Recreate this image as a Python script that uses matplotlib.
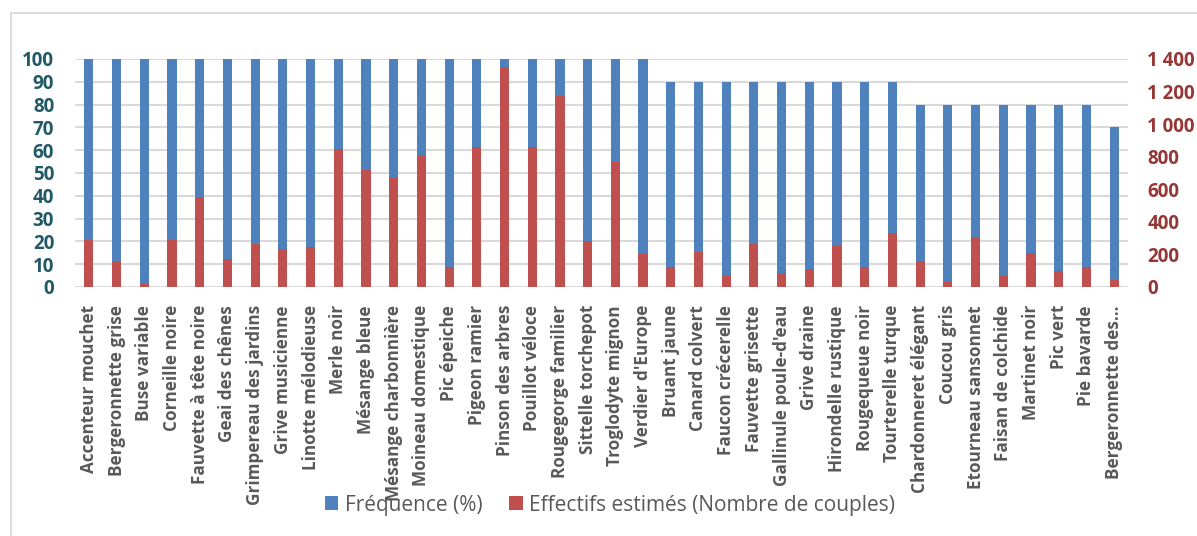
import matplotlib
matplotlib.use('Agg')

import matplotlib.pyplot as plt
import numpy as np
from matplotlib.patches import Rectangle
from matplotlib.ticker import FuncFormatter

plt.rcParams['font.family'] = ['Open Sans', 'DejaVu Sans']

# Espèces observées, fréquence (%) et effectifs estimés (couples)
especes = [
    'Accenteur mouchet', 'Bergeronnette grise', 'Buse variable', 'Corneille noire',
    'Fauvette à tête noire', 'Geai des chênes', 'Grimpereau des jardins',
    'Grive musicienne', 'Linotte mélodieuse', 'Merle noir', 'Mésange bleue',
    'Mésange charbonnière', 'Moineau domestique', 'Pic épeiche', 'Pigeon ramier',
    'Pinson des arbres', 'Pouillot véloce', 'Rougegorge familier',
    'Sittelle torchepot', 'Troglodyte mignon', "Verdier d'Europe", 'Bruant jaune',
    'Canard colvert', 'Faucon crécerelle', 'Fauvette grisette',
    "Gallinule poule-d'eau", 'Grive draine', 'Hirondelle rustique',
    'Rougequeue noir', 'Tourterelle turque', 'Chardonneret élégant',
    'Coucou gris', 'Etourneau sansonnet', 'Faisan de colchide', 'Martinet noir',
    'Pic vert', 'Pie bavarde', 'Bergeronnette des…',
]
frequence = [100] * 21 + [90] * 9 + [80] * 7 + [70]
effectifs = [
    290, 160, 20, 290, 550, 175, 265, 235, 245, 850, 720, 675, 805, 125, 860,
    1350, 860, 1170, 280, 765, 200, 125, 215, 72, 265, 84, 113, 250, 123, 330,
    160, 29, 305, 68, 211, 96, 125, 43,
]

bleu = '#4F81BD'
rouge = '#C0504D'
gris_txt = '#595959'
gris_grille = '#D9D9D9'

fig = plt.figure(figsize=(11.97, 5.36), dpi=100)

# cadre du graphique
fig.patches.append(Rectangle((11 / 1197, -0.1), 1.2, 1 - 13 / 536 + 0.1,
                             transform=fig.transFigure, fill=False,
                             edgecolor=gris_grille, linewidth=1.3))

ax = fig.add_axes([75 / 1197, 1 - 287 / 536, 1053 / 1197, 228 / 536])
x = np.arange(len(especes))
largeur = 0.33

ax.bar(x, frequence, largeur, color=bleu, label='Fréquence (%)', zorder=2)
ax.set_ylim(0, 100)
ax.set_xlim(-0.5, len(especes) - 0.5)
ax.set_yticks(np.arange(0, 101, 10))
ax.grid(axis='y', color=gris_grille, linewidth=1.5, zorder=0)
ax.set_axisbelow(True)
for s in ax.spines.values():
    s.set_visible(False)
ax.tick_params(axis='y', length=0, pad=15, labelsize=13.5, labelcolor='#215967')
for lab in ax.get_yticklabels():
    lab.set_fontweight('bold')

ax.set_xticks(x)
ax.set_xticklabels(especes, rotation=90, fontsize=12.3, fontweight='bold',
                   color=gris_txt)
ax.tick_params(axis='x', length=0, pad=13)

ax2 = ax.twinx()
ax2.bar(x, effectifs, largeur, color=rouge,
        label='Effectifs estimés (Nombre de couples)', zorder=3)
ax2.set_ylim(0, 1400)
ax2.set_yticks(np.arange(0, 1401, 200))
ax2.yaxis.set_major_formatter(FuncFormatter(lambda v, p: f'{int(v):,}'.replace(',', ' ')))
for s in ax2.spines.values():
    s.set_visible(False)
ax2.tick_params(axis='y', length=0, pad=14, labelsize=13.5, labelcolor='#953735')
for lab in ax2.get_yticklabels():
    lab.set_fontweight('bold')

h1, l1 = ax.get_legend_handles_labels()
h2, l2 = ax2.get_legend_handles_labels()
fig.legend(h1 + h2, l1 + l2, loc='center', bbox_to_anchor=(610 / 1197, 1 - 505 / 536),
           ncol=2, frameon=False, fontsize=15, labelcolor=gris_txt,
           handlelength=0.65, handleheight=0.65, handletextpad=0.3, columnspacing=1.3)

plt.savefig('out.png', dpi=100)
plt.close(fig)
